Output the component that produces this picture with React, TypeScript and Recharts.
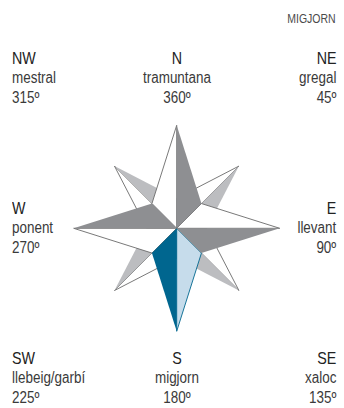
import { RadarChart, PolarAngleAxis, PolarRadiusAxis, Radar } from 'recharts';

// compass directions, clockwise from north
const directions = ['N', 'NE', 'E', 'SE', 'S', 'SW', 'W', 'NW'];
// length of the point drawn at each direction
const pointLength = [103, 88, 103, 88, 103, 88, 103, 88];
// depth of the notch at each direction (where neighbouring points meet)
const notchLength = [30, 35, 30, 35, 30, 35, 30, 35];

const abbrevs = ['NW', 'N', 'NE', 'W', 'E', 'SW', 'S', 'SE'];
const windNames = ['mestral', 'tramuntana', 'gregal', 'ponent', 'llevant', 'llebeig/garbí', 'migjorn', 'xaloc'];
const degrees = ['315º', '360º', '45º', '270º', '90º', '225º', '180º', '135º'];

// each point is split in two halves: the clockwise half and the counter-clockwise one
const n = directions.length;
const data = directions.map((dir, k) => {
    const row: any = { dir };
    directions.forEach((_, i) => {
        const cw = (i + 1) % n;
        const ccw = (i + n - 1) % n;
        row[`cw${i}`] = k === i ? pointLength[i] : k === cw ? notchLength[cw] : 0;
        row[`ccw${i}`] = k === i ? pointLength[i] : k === ccw ? notchLength[ccw] : 0;
    });
    return row;
});

const diagonal = [1, 3, 5, 7];
const cardinal = [0, 2, 4, 6];

const lineColor = '#6a6a6a';

function halfStyle(i: number, side: 'cw' | 'ccw') {
    if (i === 4) {
        return side === 'cw'
            ? { fill: '#00668f', stroke: 'none' }
            : { fill: '#c6dceb', stroke: '#00668f' };
    }
    if (side === 'ccw') return { fill: '#ffffff', stroke: lineColor };
    return { fill: i % 2 ? '#bcbdc0' : '#8e8f92', stroke: 'none' };
}

function starHalves(list: number[]) {
    const out: any[] = [];
    (['ccw', 'cw'] as const).forEach((side) => {
        list.forEach((i) => {
            const s = halfStyle(i, side);
            out.push(
                <Radar
                    key={`${side}${i}`}
                    dataKey={`${side}${i}`}
                    fill={s.fill}
                    fillOpacity={1}
                    stroke={s.stroke}
                    strokeWidth={0.9}
                    strokeLinejoin="round"
                    dot={false}
                    isAnimationActive={false}
                />
            );
        });
    });
    return out;
}

const labelPos: any[] = [
    { left: 12, top: 48.5, textAlign: 'left' },
    { left: 117, top: 48.5, width: 120, textAlign: 'center' },
    { right: 8, top: 48.5, textAlign: 'right' },
    { left: 12, top: 198.5, textAlign: 'left' },
    { right: 8, top: 198.5, textAlign: 'right' },
    { left: 12, top: 348.5, textAlign: 'left' },
    { left: 117, top: 348.5, width: 120, textAlign: 'center' },
    { right: 8, top: 348.5, textAlign: 'right' },
];

const font = "'Liberation Sans', Arial, sans-serif";

function Narrow({ children, origin, size, color }: any) {
    return (
        <div style={{ fontSize: size, color, transform: 'scaleX(0.84)', transformOrigin: origin, whiteSpace: 'nowrap' }}>
            {children}
        </div>
    );
}

export default function App() {
    return (
        <div style={{ position: 'absolute', left: 0, top: 0, width: 344, height: 408, background: '#fff', fontFamily: font, color: '#3a3a3a' }}>
            <RadarChart width={344} height={408} data={data} cx={176.7} cy={228.3} outerRadius={103} margin={{ top: 0, right: 0, bottom: 0, left: 0 }}>
                <PolarAngleAxis dataKey="dir" tick={false} axisLine={false} />
                <PolarRadiusAxis domain={[0, 103]} tick={false} axisLine={false} />
                {starHalves(diagonal)}
                {starHalves(cardinal)}
            </RadarChart>
            <div style={{ position: 'absolute', right: 8, top: 12, lineHeight: 'normal' }}>
                <Narrow origin="right" size={12.5} color="#4a4a4a">MIGJORN</Narrow>
            </div>
            {abbrevs.map((a, i) => {
                const origin = labelPos[i].textAlign === 'center' ? 'center' : labelPos[i].textAlign;
                return (
                    <div key={a} style={{ position: 'absolute', lineHeight: '19.5px', ...labelPos[i] }}>
                        <Narrow origin={origin} size={17} color="#222">{a}</Narrow>
                        <Narrow origin={origin} size={16}>{windNames[i]}</Narrow>
                        <Narrow origin={origin} size={16}>{degrees[i]}</Narrow>
                    </div>
                );
            })}
        </div>
    );
}
